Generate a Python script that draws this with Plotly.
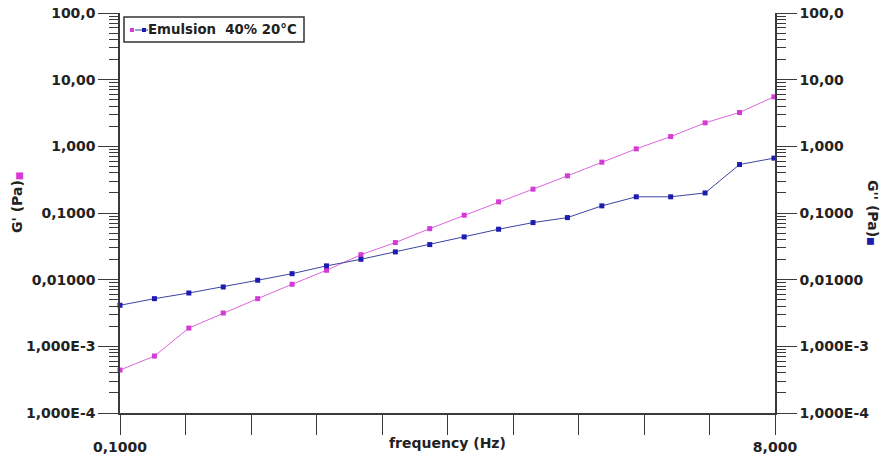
import plotly.graph_objects as go

# ---- data ----
frequency = [0.1, 0.1259, 0.1585, 0.1995, 0.2512, 0.3162, 0.3981, 0.5012, 0.631, 0.7943,
             1.0, 1.259, 1.585, 1.995, 2.512, 3.162, 3.981, 5.012, 6.31, 7.943]
g_prime = [4.41e-4, 7.15e-4, 1.88e-3, 3.16e-3, 5.19e-3, 8.53e-3, 0.01384, 0.0237, 0.036, 0.0583,
           0.0927, 0.147, 0.228, 0.361, 0.579, 0.917, 1.40, 2.25, 3.22, 5.53]
g_double = [4.13e-3, 5.19e-3, 6.31e-3, 7.77e-3, 9.8e-3, 0.0123, 0.0161, 0.0202, 0.0261, 0.0336,
            0.0438, 0.0571, 0.0718, 0.0853, 0.128, 0.175, 0.175, 0.200, 0.533, 0.665]
y_tickvals = [1e-4, 1e-3, 1e-2, 1e-1, 1, 10, 100]
y_ticktext = ["1,000E-4", "1,000E-3", "0,01000", "0,1000", "1,000", "10,00", "100,0"]
x_min, x_max = 0.1, 8.0
x_ticktext_ends = ["0,1000", "8,000"]
series_name = "Emulsion  40% 20°C"

PINK = "#d43ad4"
PINK_LINE = "#dd66dd"
BLUE = "#1c1cb0"
BLUE_LINE = "#3c44a0"
AXIS = "#3a3a3a"
FONT = "DejaVu Sans"
FS = 14

W, H = 887, 457
L, R, T, B = 120, 112, 13, 44
PW, PH = W - L - R, H - T - B


def px(x):
    return (x - L) / PW


def py(y):
    return (H - B - y) / PH


x_tickvals = [x_min * (x_max / x_min) ** (k / 10) for k in range(11)]
x_ticktext = [x_ticktext_ends[0]] + [""] * 9 + [x_ticktext_ends[1]]
minor_vals = [m * 10 ** e for e in range(-4, 2) for m in range(2, 10)]

fig = go.Figure()
fig.add_trace(go.Scatter(x=frequency, y=g_prime, mode="lines+markers", name="G'",
                         line=dict(color=PINK_LINE, width=1),
                         marker=dict(symbol="square", size=5, color=PINK),
                         yaxis="y", showlegend=False, cliponaxis=False))
fig.add_trace(go.Scatter(x=frequency, y=g_double, mode="lines+markers", name="G''",
                         line=dict(color=BLUE_LINE, width=1),
                         marker=dict(symbol="square", size=5, color=BLUE),
                         yaxis="y2", showlegend=False, cliponaxis=False))

tickfont = dict(family=FONT, size=FS, color="#222", weight="bold")
yax = dict(type="log", range=[-4, 2], tickmode="array", tickvals=y_tickvals, ticktext=y_ticktext,
           ticks="outside", ticklen=20, tickwidth=1, tickcolor=AXIS, showline=True, linecolor=AXIS,
           linewidth=1.5, showgrid=False, zeroline=False, tickfont=tickfont, automargin=False,
           minor=dict(tickmode="array", tickvals=minor_vals, ticks="outside", ticklen=9,
                      tickcolor=AXIS, tickwidth=1, showgrid=False))

fig.update_layout(
    width=W, height=H, autosize=False,
    margin=dict(l=L, r=R, t=T, b=B, autoexpand=False),
    paper_bgcolor="white", plot_bgcolor="white",
    showlegend=False,
    xaxis=dict(type="log", range=[-1, 0.90309], tickmode="array", tickvals=x_tickvals,
               ticktext=x_ticktext, ticks="outside", ticklen=20, tickwidth=1, tickcolor=AXIS,
               showline=True, linecolor=AXIS, linewidth=1.5, showgrid=False, zeroline=False,
               tickfont=tickfont, automargin=False),
    yaxis=dict(**yax, side="left"),
    yaxis2=dict(**yax, side="right", overlaying="y", anchor="x"),
)

# x axis title on the tick-label line
fig.add_annotation(x=0.5, y=py(443), xref="paper", yref="paper", text="frequency (Hz)",
                   showarrow=False, xanchor="center", yanchor="middle",
                   font=dict(family=FONT, size=FS, color="#222", weight="bold"))
# y titles
fig.add_annotation(x=px(17), y=py(203), xref="paper", yref="paper",
                   text=f"G' (Pa)<span style='color:{PINK};font-size:9px'>■</span>",
                   textangle=-90, showarrow=False, xanchor="center", yanchor="middle",
                   font=dict(family=FONT, size=FS, color="#222", weight="bold"))
fig.add_annotation(x=px(873), y=py(213), xref="paper", yref="paper",
                   text=f"G'' (Pa)<span style='color:{BLUE};font-size:9px'>■</span>",
                   textangle=90, showarrow=False, xanchor="center", yanchor="middle",
                   font=dict(family=FONT, size=FS, color="#222", weight="bold"))

# manual legend
fig.add_shape(type="rect", xref="paper", yref="paper", x0=px(124), x1=px(304), y0=py(42), y1=py(17),
              line=dict(color="#333", width=1.5), fillcolor="white", layer="above")
fig.add_shape(type="line", xref="paper", yref="paper", x0=px(135), x1=px(148), y0=py(30), y1=py(30),
              line=dict(color=BLUE_LINE, width=1), layer="above")
fig.add_shape(type="rect", xref="paper", yref="paper", x0=px(130), x1=px(134), y0=py(32), y1=py(28),
              line=dict(width=0), fillcolor=PINK, layer="above")
fig.add_shape(type="rect", xref="paper", yref="paper", x0=px(142), x1=px(146), y0=py(32), y1=py(28),
              line=dict(width=0), fillcolor=BLUE, layer="above")
fig.add_annotation(x=px(146), y=py(30), xref="paper", yref="paper", text=series_name,
                   showarrow=False, xanchor="left", yanchor="middle",
                   font=dict(family=FONT, size=13.3, color="#222", weight="bold"))

fig.write_html("out.html")
